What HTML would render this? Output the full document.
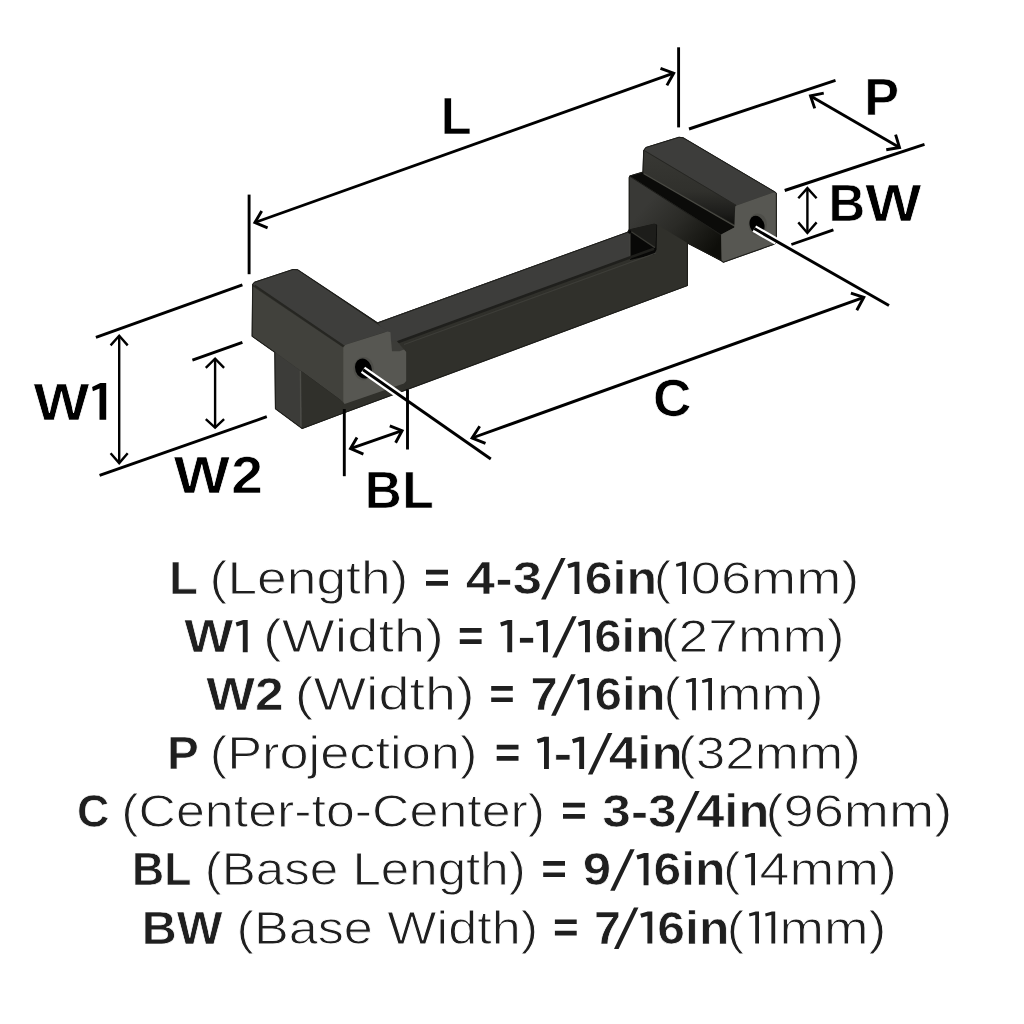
<!DOCTYPE html>
<html><head><meta charset="utf-8"><style>
html,body{margin:0;padding:0;background:#fff;}
body{width:1024px;height:1024px;overflow:hidden;}
svg{display:block;}
</style></head><body>
<svg width="1024" height="1024" viewBox="0 0 1024 1024">
<rect width="1024" height="1024" fill="#fff"/>
<defs><linearGradient id="gUp" x1="0" y1="0" x2="0" y2="1"><stop offset="0" stop-color="#383834"/><stop offset="0.55" stop-color="#30302c"/><stop offset="0.85" stop-color="#1c1c1a"/><stop offset="1" stop-color="#0e0e0c"/></linearGradient><linearGradient id="gLow" gradientUnits="userSpaceOnUse" x1="650" y1="200" x2="712" y2="252"><stop offset="0" stop-color="#393936"/><stop offset="0.45" stop-color="#2a2a26"/><stop offset="1" stop-color="#0e0e0a"/></linearGradient></defs>
<polygon points="252.7,284.4 254.5,282.3 293,269.5 297.5,269.8 377.6,323 627.8,232.2 629.3,229.3 629.3,177.6 629.8,176 643,172.2 643.75,150.5 646,147.5 679,137.3 683,137.8 774.7,191.9 776.3,193.5 776.3,242 774,244.2 723.3,262.2 721.5,260.5 687.4,243 687.4,285.5 402.5,391.1 342.6,413.3 302.2,428.4 275.5,408.7 274.9,352.2 252.2,336.2" fill="#30302b" stroke="#1c1c19" stroke-width="1.2" stroke-linejoin="round"/>
<polygon points="377.6,322.2 627.8,232.2 630,234.5 630,257.4 391.6,344.5 385,333" fill="#3d3d3b"/>
<polygon points="405,343.6 656,252.5 656.5,249.8 657.1,224.4 687.4,243 687.4,285.5 402.5,391.1 406.2,384 406.2,352" fill="#30302b"/>
<polygon points="627.8,232.2 629.3,229.3 654.2,223.4 657.1,224.4 656.5,249.8 654,254.5 630,260 630,234.5" fill="#080807"/>
<polygon points="629.3,229.3 654.2,223.4 656.6,224.6 655.5,247.5 631.3,231.6" fill="#1d1d1a"/>
<line x1="631.3" y1="231.8" x2="655" y2="247.6" stroke="#3a3a35" stroke-width="1.3"/>
<line x1="630" y1="233.5" x2="630" y2="259" stroke="#474742" stroke-width="1.0"/>
<line x1="396.9" y1="342.5" x2="654" y2="248.7" stroke="#1f1f1c" stroke-width="2.6"/>
<line x1="404" y1="344.6" x2="656" y2="253.1" stroke="#3d3d38" stroke-width="1.1"/>
<polygon points="629.3,177.6 629.8,176 721.1,234.5 722,261.7 687.4,243 657.1,224.4 654.2,223.4 629.3,229.3" fill="url(#gLow)"/>
<polygon points="643.75,150.5 736.5,205.5 735.2,225 643,173" fill="url(#gUp)"/>
<polygon points="629.8,176 643,172.6 735,226 734.3,227.5 721.1,234.5" fill="#0b0b09"/>
<line x1="643.5" y1="173.4" x2="735" y2="226.2" stroke="#4a4a44" stroke-width="1.3"/>
<line x1="630.5" y1="176.8" x2="721.1" y2="235" stroke="#1e1e1b" stroke-width="1.0"/>
<polygon points="643.75,149.8 646,147.5 679,137.3 683,137.8 774.7,191.9 736.5,205.5" fill="#3d3d3b"/>
<line x1="645" y1="151" x2="736" y2="205.2" stroke="#262623" stroke-width="1.0"/>
<polygon points="736.5,205.5 774.7,191.9 776.3,193.5 776.3,242 774,244.2 723.3,262.2 721.5,260.5 721.1,234.5 734.3,227.5 735.2,206.4" fill="#575752"/>
<ellipse cx="757.8" cy="224.6" rx="9.2" ry="11.2" fill="#4e4e49"/>
<ellipse cx="757" cy="225" rx="7.2" ry="9.6" fill="#000" transform="rotate(-20 757 225)"/>
<polygon points="252.7,284.4 254.5,282.3 293,269.5 297.5,269.8 387.6,331.2 345.5,344.7 343.7,345.4" fill="#3e3e3c"/>
<polygon points="252.2,286 343.2,347.5 343.2,402 340.6,400.3 301.6,371.6 274.9,352.2 252.2,336.2" fill="#41413c"/>
<line x1="254.6" y1="285.6" x2="343.5" y2="346.2" stroke="#262622" stroke-width="2"/>
<polygon points="274.9,352.2 301.6,371.6 302.2,428.4 275.5,408.7" fill="#3c3c39"/>
<line x1="300.3" y1="371" x2="300.8" y2="427.5" stroke="#4d4d48" stroke-width="1.2"/>
<line x1="301.6" y1="371.6" x2="340.6" y2="400.3" stroke="#2a2a26" stroke-width="1.0"/>
<polygon points="301.6,371.6 340.6,400.3 343,404 342.6,413.3 302.2,428.4" fill="#30302b"/>
<polygon points="342.6,404.4 404.5,383.5 406.2,384 402.5,391.1 342.6,413.3" fill="#30302b"/>
<polygon points="343.2,347.5 345.5,344.7 387.6,331.6 390.5,332.3 391,341.1 391.4,342 400.4,348 404.3,349.7 406.2,352 406.2,381 404,383.5 344.6,404 343.2,402" fill="#575752"/>
<polygon points="391.2,341.5 396,340 404,349.5 399.5,351.3 392,351.3" fill="#3c3c38"/>
<ellipse cx="363.6" cy="368.6" rx="10.2" ry="11.6" fill="#4e4e49"/>
<ellipse cx="363.4" cy="368.6" rx="8.2" ry="10.2" fill="#000" transform="rotate(-20 363.4 368.6)"/>
<polygon points="252.7,284.4 254.5,282.3 293,269.5 297.5,269.8 377.6,323 627.8,232.2 629.3,229.3 629.3,177.6 629.8,176 643,172.2 643.75,150.5 646,147.5 679,137.3 683,137.8 774.7,191.9 776.3,193.5 776.3,242 774,244.2 723.3,262.2 721.5,260.5 687.4,243 687.4,285.5 402.5,391.1 342.6,413.3 302.2,428.4 275.5,408.7 274.9,352.2 252.2,336.2" fill="none" stroke="#1c1c19" stroke-width="0.9" stroke-linejoin="round"/>
<line x1="363" y1="369.8" x2="402.5" y2="397.4" stroke="#fff" stroke-width="7.4"/>
<line x1="754.3" y1="228.6" x2="776.6" y2="241.4" stroke="#fff" stroke-width="7.4"/>
<line x1="363" y1="369.8" x2="490.8" y2="459" stroke="#000" stroke-width="2.9"/>
<line x1="754.3" y1="228.6" x2="889" y2="305.5" stroke="#000" stroke-width="2.9"/>
<line x1="249.1" y1="194.6" x2="249.1" y2="274.2" stroke="#000" stroke-width="2.9"/>
<line x1="678.6" y1="47.3" x2="678.6" y2="127.4" stroke="#000" stroke-width="2.9"/>
<line x1="254.9" y1="222.5" x2="673.7" y2="73.2" stroke="#000" stroke-width="2.9"/>
<polyline points="261.7,211.1 254.9,222.5 267.6,227.9" fill="none" stroke="#000" stroke-width="2.9" stroke-linejoin="miter"/>
<polyline points="660.5,68.3 673.7,73.2 666.9,85.4" fill="none" stroke="#000" stroke-width="2.9" stroke-linejoin="miter"/>
<line x1="689" y1="129" x2="835.5" y2="80.3" stroke="#000" stroke-width="2.9"/>
<line x1="784.7" y1="190.5" x2="924.5" y2="144.4" stroke="#000" stroke-width="2.9"/>
<line x1="810.5" y1="95.9" x2="899.5" y2="147.5" stroke="#000" stroke-width="2.9"/>
<polyline points="823.75,93.1 810.5,95.9 814.7,108.4" fill="none" stroke="#000" stroke-width="2.9" stroke-linejoin="miter"/>
<polyline points="895.6,134.7 899.5,147.5 886.25,149.8" fill="none" stroke="#000" stroke-width="2.9" stroke-linejoin="miter"/>
<line x1="807.4" y1="188.1" x2="807.4" y2="233" stroke="#000" stroke-width="2.4"/>
<polyline points="798.3,198.3 807.4,188.1 816.6,198.3" fill="none" stroke="#000" stroke-width="2.4" stroke-linejoin="miter"/>
<polyline points="798.3,222.4 807.4,233 816.6,222.4" fill="none" stroke="#000" stroke-width="2.4" stroke-linejoin="miter"/>
<line x1="791.4" y1="244.5" x2="833.4" y2="229.9" stroke="#000" stroke-width="2.9"/>
<line x1="95.9" y1="337.4" x2="242.4" y2="284.9" stroke="#000" stroke-width="2.9"/>
<line x1="99.6" y1="475.3" x2="266.8" y2="416.7" stroke="#000" stroke-width="2.9"/>
<line x1="119.2" y1="335.7" x2="119.2" y2="463.1" stroke="#000" stroke-width="2.4"/>
<polyline points="110.6,345.4 119.2,335.7 127.7,345.4" fill="none" stroke="#000" stroke-width="2.4" stroke-linejoin="miter"/>
<polyline points="110.6,453.3 119.2,463.1 127.7,453.3" fill="none" stroke="#000" stroke-width="2.4" stroke-linejoin="miter"/>
<line x1="192.4" y1="360.1" x2="242.4" y2="342.3" stroke="#000" stroke-width="2.9"/>
<line x1="215.1" y1="358.6" x2="215.1" y2="427.7" stroke="#000" stroke-width="2.4"/>
<polyline points="205.8,367.9 215.1,358.6 224.1,367.9" fill="none" stroke="#000" stroke-width="2.4" stroke-linejoin="miter"/>
<polyline points="205.8,419.2 215.1,427.7 224.1,419.2" fill="none" stroke="#000" stroke-width="2.4" stroke-linejoin="miter"/>
<line x1="344.3" y1="409" x2="344.3" y2="476.2" stroke="#000" stroke-width="2.9"/>
<line x1="407.5" y1="389.4" x2="407.5" y2="449.5" stroke="#000" stroke-width="2.9"/>
<line x1="350.5" y1="448.6" x2="402.1" y2="430.7" stroke="#000" stroke-width="2.9"/>
<polyline points="357,437.5 350.5,448.6 363.4,454.1" fill="none" stroke="#000" stroke-width="2.9" stroke-linejoin="miter"/>
<polyline points="389.8,425.8 402.1,430.7 395.6,442.8" fill="none" stroke="#000" stroke-width="2.9" stroke-linejoin="miter"/>
<line x1="472.1" y1="438" x2="863.8" y2="297.3" stroke="#000" stroke-width="2.9"/>
<polyline points="479.7,426.3 472.1,438 485.5,443.3" fill="none" stroke="#000" stroke-width="2.9" stroke-linejoin="miter"/>
<polyline points="850.9,293.2 863.8,297.3 856.8,310.2" fill="none" stroke="#000" stroke-width="2.9" stroke-linejoin="miter"/>
<g style="filter:grayscale(1)">
<text x="169.13" y="594" font-size="46.8" font-family="Liberation Sans" font-weight="bold" fill="#211f1f" stroke="#fff" stroke-width="0.7" textLength="29.09" lengthAdjust="spacingAndGlyphs" xml:space="preserve">L</text>
<text x="209.64" y="594" font-size="46.8" font-family="Liberation Sans" font-weight="normal" fill="#211f1f" stroke="#fff" stroke-width="0.95" textLength="198.74" lengthAdjust="spacingAndGlyphs" xml:space="preserve">(Length)</text>
<text x="465.88" y="594" font-size="46.8" font-family="Liberation Sans" font-weight="bold" fill="#211f1f" stroke="#fff" stroke-width="0.7" textLength="76.1" lengthAdjust="spacingAndGlyphs" xml:space="preserve">4-3</text>
<text x="584.76" y="594" font-size="46.8" font-family="Liberation Sans" font-weight="bold" fill="#211f1f" stroke="#fff" stroke-width="0.7" textLength="72.32" lengthAdjust="spacingAndGlyphs" xml:space="preserve">6in</text>
<text x="653.77" y="594" font-size="46.8" font-family="Liberation Sans" font-weight="normal" fill="#211f1f" stroke="#fff" stroke-width="0.95" textLength="17.47" lengthAdjust="spacingAndGlyphs" xml:space="preserve">(</text>
<text x="690.89" y="594" font-size="46.8" font-family="Liberation Sans" font-weight="normal" fill="#211f1f" stroke="#fff" stroke-width="0.95" textLength="168.49" lengthAdjust="spacingAndGlyphs" xml:space="preserve">06mm)</text>
<text x="184.19" y="652.2" font-size="46.8" font-family="Liberation Sans" font-weight="bold" fill="#211f1f" stroke="#fff" stroke-width="0.7" textLength="49.01" lengthAdjust="spacingAndGlyphs" xml:space="preserve">W</text>
<text x="263.11" y="652.2" font-size="46.8" font-family="Liberation Sans" font-weight="normal" fill="#211f1f" stroke="#fff" stroke-width="0.95" textLength="180.75" lengthAdjust="spacingAndGlyphs" xml:space="preserve">(Width)</text>
<text x="517.2" y="652.2" font-size="46.8" font-family="Liberation Sans" font-weight="bold" fill="#211f1f" stroke="#fff" stroke-width="0.7" textLength="18.71" lengthAdjust="spacingAndGlyphs" xml:space="preserve">-</text>
<text x="594.2" y="652.2" font-size="46.8" font-family="Liberation Sans" font-weight="bold" fill="#211f1f" stroke="#fff" stroke-width="0.7" textLength="71.12" lengthAdjust="spacingAndGlyphs" xml:space="preserve">6in</text>
<text x="660.84" y="652.2" font-size="46.8" font-family="Liberation Sans" font-weight="normal" fill="#211f1f" stroke="#fff" stroke-width="0.95" textLength="183.8" lengthAdjust="spacingAndGlyphs" xml:space="preserve">(27mm)</text>
<text x="206.2" y="710.3" font-size="46.8" font-family="Liberation Sans" font-weight="bold" fill="#211f1f" stroke="#fff" stroke-width="0.7" textLength="77.43" lengthAdjust="spacingAndGlyphs" xml:space="preserve">W2</text>
<text x="294.83" y="710.3" font-size="46.8" font-family="Liberation Sans" font-weight="normal" fill="#211f1f" stroke="#fff" stroke-width="0.95" textLength="179.8" lengthAdjust="spacingAndGlyphs" xml:space="preserve">(Width)</text>
<text x="530.6" y="710.3" font-size="46.8" font-family="Liberation Sans" font-weight="bold" fill="#211f1f" stroke="#fff" stroke-width="0.7" textLength="27.33" lengthAdjust="spacingAndGlyphs" xml:space="preserve">7</text>
<text x="594.81" y="710.3" font-size="46.8" font-family="Liberation Sans" font-weight="bold" fill="#211f1f" stroke="#fff" stroke-width="0.7" textLength="70.68" lengthAdjust="spacingAndGlyphs" xml:space="preserve">6in</text>
<text x="663.47" y="710.3" font-size="46.8" font-family="Liberation Sans" font-weight="normal" fill="#211f1f" stroke="#fff" stroke-width="0.95" textLength="17.47" lengthAdjust="spacingAndGlyphs" xml:space="preserve">(</text>
<text x="716.94" y="710.3" font-size="46.8" font-family="Liberation Sans" font-weight="normal" fill="#211f1f" stroke="#fff" stroke-width="0.95" textLength="106.73" lengthAdjust="spacingAndGlyphs" xml:space="preserve">mm)</text>
<text x="167.02" y="769" font-size="46.8" font-family="Liberation Sans" font-weight="bold" fill="#211f1f" stroke="#fff" stroke-width="0.7" textLength="31.84" lengthAdjust="spacingAndGlyphs" xml:space="preserve">P</text>
<text x="209.73" y="769" font-size="46.8" font-family="Liberation Sans" font-weight="normal" fill="#211f1f" stroke="#fff" stroke-width="0.95" textLength="267.63" lengthAdjust="spacingAndGlyphs" xml:space="preserve">(Projection)</text>
<text x="553.58" y="769" font-size="46.8" font-family="Liberation Sans" font-weight="bold" fill="#211f1f" stroke="#fff" stroke-width="0.7" textLength="18.85" lengthAdjust="spacingAndGlyphs" xml:space="preserve">-</text>
<text x="608.81" y="769" font-size="46.8" font-family="Liberation Sans" font-weight="bold" fill="#211f1f" stroke="#fff" stroke-width="0.7" textLength="73.96" lengthAdjust="spacingAndGlyphs" xml:space="preserve">4in</text>
<text x="678.06" y="769" font-size="46.8" font-family="Liberation Sans" font-weight="normal" fill="#211f1f" stroke="#fff" stroke-width="0.95" textLength="182.85" lengthAdjust="spacingAndGlyphs" xml:space="preserve">(32mm)</text>
<text x="76.89" y="827" font-size="46.8" font-family="Liberation Sans" font-weight="bold" fill="#211f1f" stroke="#fff" stroke-width="0.7" textLength="32.33" lengthAdjust="spacingAndGlyphs" xml:space="preserve">C</text>
<text x="121.26" y="827" font-size="46.8" font-family="Liberation Sans" font-weight="normal" fill="#211f1f" stroke="#fff" stroke-width="0.95" textLength="423.87" lengthAdjust="spacingAndGlyphs" xml:space="preserve">(Center-to-Center)</text>
<text x="602.3" y="827" font-size="46.8" font-family="Liberation Sans" font-weight="bold" fill="#211f1f" stroke="#fff" stroke-width="0.7" textLength="74.3" lengthAdjust="spacingAndGlyphs" xml:space="preserve">3-3</text>
<text x="696.22" y="827" font-size="46.8" font-family="Liberation Sans" font-weight="bold" fill="#211f1f" stroke="#fff" stroke-width="0.7" textLength="73.1" lengthAdjust="spacingAndGlyphs" xml:space="preserve">4in</text>
<text x="765.46" y="827" font-size="46.8" font-family="Liberation Sans" font-weight="normal" fill="#211f1f" stroke="#fff" stroke-width="0.95" textLength="186.83" lengthAdjust="spacingAndGlyphs" xml:space="preserve">(96mm)</text>
<text x="132.1" y="885.3" font-size="46.8" font-family="Liberation Sans" font-weight="bold" fill="#211f1f" stroke="#fff" stroke-width="0.7" textLength="59.33" lengthAdjust="spacingAndGlyphs" xml:space="preserve">BL</text>
<text x="204.73" y="885.3" font-size="46.8" font-family="Liberation Sans" font-weight="normal" fill="#211f1f" stroke="#fff" stroke-width="0.95" textLength="321.01" lengthAdjust="spacingAndGlyphs" xml:space="preserve">(Base Length)</text>
<text x="582.82" y="885.3" font-size="46.8" font-family="Liberation Sans" font-weight="bold" fill="#211f1f" stroke="#fff" stroke-width="0.7" textLength="28.4" lengthAdjust="spacingAndGlyphs" xml:space="preserve">9</text>
<text x="653.57" y="885.3" font-size="46.8" font-family="Liberation Sans" font-weight="bold" fill="#211f1f" stroke="#fff" stroke-width="0.7" textLength="71.99" lengthAdjust="spacingAndGlyphs" xml:space="preserve">6in</text>
<text x="723.07" y="885.3" font-size="46.8" font-family="Liberation Sans" font-weight="normal" fill="#211f1f" stroke="#fff" stroke-width="0.95" textLength="17.47" lengthAdjust="spacingAndGlyphs" xml:space="preserve">(</text>
<text x="759.61" y="885.3" font-size="46.8" font-family="Liberation Sans" font-weight="normal" fill="#211f1f" stroke="#fff" stroke-width="0.95" textLength="137.2" lengthAdjust="spacingAndGlyphs" xml:space="preserve">4mm)</text>
<text x="141.76" y="943.6" font-size="46.8" font-family="Liberation Sans" font-weight="bold" fill="#211f1f" stroke="#fff" stroke-width="0.7" textLength="80.75" lengthAdjust="spacingAndGlyphs" xml:space="preserve">BW</text>
<text x="236.64" y="943.6" font-size="46.8" font-family="Liberation Sans" font-weight="normal" fill="#211f1f" stroke="#fff" stroke-width="0.95" textLength="301.41" lengthAdjust="spacingAndGlyphs" xml:space="preserve">(Base Width)</text>
<text x="594.13" y="943.6" font-size="46.8" font-family="Liberation Sans" font-weight="bold" fill="#211f1f" stroke="#fff" stroke-width="0.7" textLength="26.98" lengthAdjust="spacingAndGlyphs" xml:space="preserve">7</text>
<text x="657.37" y="943.6" font-size="46.8" font-family="Liberation Sans" font-weight="bold" fill="#211f1f" stroke="#fff" stroke-width="0.7" textLength="71.99" lengthAdjust="spacingAndGlyphs" xml:space="preserve">6in</text>
<text x="726.87" y="943.6" font-size="46.8" font-family="Liberation Sans" font-weight="normal" fill="#211f1f" stroke="#fff" stroke-width="0.95" textLength="17.47" lengthAdjust="spacingAndGlyphs" xml:space="preserve">(</text>
<text x="779.53" y="943.6" font-size="46.8" font-family="Liberation Sans" font-weight="normal" fill="#211f1f" stroke="#fff" stroke-width="0.95" textLength="106.84" lengthAdjust="spacingAndGlyphs" xml:space="preserve">mm)</text>
<text x="440.72" y="133.6" font-size="52" font-family="Liberation Sans" font-weight="bold" fill="#000" stroke="#fff" stroke-width="0.7" textLength="30.79" lengthAdjust="spacingAndGlyphs" xml:space="preserve">L</text>
<text x="864.29" y="114.7" font-size="52" font-family="Liberation Sans" font-weight="bold" fill="#000" stroke="#fff" stroke-width="0.7" textLength="34.81" lengthAdjust="spacingAndGlyphs" xml:space="preserve">P</text>
<text x="828.39" y="220.8" font-size="52" font-family="Liberation Sans" font-weight="bold" fill="#000" stroke="#fff" stroke-width="0.7" textLength="36.71" lengthAdjust="spacingAndGlyphs" xml:space="preserve">B</text>
<text x="865.36" y="220.8" font-size="52" font-family="Liberation Sans" font-weight="bold" fill="#000" stroke="#fff" stroke-width="0.7" textLength="56.09" lengthAdjust="spacingAndGlyphs" xml:space="preserve">W</text>
<text x="33.56" y="419.8" font-size="52" font-family="Liberation Sans" font-weight="bold" fill="#000" stroke="#fff" stroke-width="0.7" textLength="55.88" lengthAdjust="spacingAndGlyphs" xml:space="preserve">W</text>
<path d="M92.1,386.9 L100.3,383 L106.2,383 L106.2,419.75 L99.5,419.75 L99.5,388.6 L92.9,391.3 Z" fill="#000"/>
<text x="173.76" y="493.3" font-size="52" font-family="Liberation Sans" font-weight="bold" fill="#000" stroke="#fff" stroke-width="0.7" textLength="56.09" lengthAdjust="spacingAndGlyphs" xml:space="preserve">W</text>
<text x="231.31" y="493.3" font-size="52" font-family="Liberation Sans" font-weight="bold" fill="#000" stroke="#fff" stroke-width="0.7" textLength="31.69" lengthAdjust="spacingAndGlyphs" xml:space="preserve">2</text>
<text x="653.02" y="416.1" font-size="52" font-family="Liberation Sans" font-weight="bold" fill="#000" stroke="#fff" stroke-width="0.7" textLength="38.5" lengthAdjust="spacingAndGlyphs" xml:space="preserve">C</text>
<text x="364.66" y="507.7" font-size="52" font-family="Liberation Sans" font-weight="bold" fill="#000" stroke="#fff" stroke-width="0.7" textLength="36.96" lengthAdjust="spacingAndGlyphs" xml:space="preserve">B</text>
<text x="402.13" y="507.7" font-size="52" font-family="Liberation Sans" font-weight="bold" fill="#000" stroke="#fff" stroke-width="0.7" textLength="31.52" lengthAdjust="spacingAndGlyphs" xml:space="preserve">L</text>
<path d="M567.30,564.20 L574.90,561.80 L579.40,561.80 L579.40,594.00 L574.50,594.00 L574.50,566.40 L568.50,568.20 Z" fill="#211f1f"/>
<path d="M675.90,564.00 L682.70,561.80 L686.00,561.80 L686.00,594.00 L682.20,594.00 L682.20,565.40 L676.50,566.80 Z" fill="#211f1f"/>
<path d="M235.60,622.40 L243.20,620.00 L247.70,620.00 L247.70,652.20 L242.80,652.20 L242.80,624.60 L236.80,626.40 Z" fill="#211f1f"/>
<path d="M500.10,622.40 L507.70,620.00 L512.20,620.00 L512.20,652.20 L507.30,652.20 L507.30,624.60 L501.30,626.40 Z" fill="#211f1f"/>
<path d="M535.80,622.40 L543.40,620.00 L547.90,620.00 L547.90,652.20 L543.00,652.20 L543.00,624.60 L537.00,626.40 Z" fill="#211f1f"/>
<path d="M577.80,622.40 L585.40,620.00 L589.90,620.00 L589.90,652.20 L585.00,652.20 L585.00,624.60 L579.00,626.40 Z" fill="#211f1f"/>
<path d="M577.00,680.50 L584.60,678.10 L589.10,678.10 L589.10,710.30 L584.20,710.30 L584.20,682.70 L578.20,684.50 Z" fill="#211f1f"/>
<path d="M685.80,680.30 L692.60,678.10 L695.90,678.10 L695.90,710.30 L692.10,710.30 L692.10,681.70 L686.40,683.10 Z" fill="#211f1f"/>
<path d="M701.90,680.30 L708.70,678.10 L712.00,678.10 L712.00,710.30 L708.20,710.30 L708.20,681.70 L702.50,683.10 Z" fill="#211f1f"/>
<path d="M536.80,739.20 L544.40,736.80 L548.90,736.80 L548.90,769.00 L544.00,769.00 L544.00,741.40 L538.00,743.20 Z" fill="#211f1f"/>
<path d="M572.00,739.20 L579.60,736.80 L584.10,736.80 L584.10,769.00 L579.20,769.00 L579.20,741.40 L573.20,743.20 Z" fill="#211f1f"/>
<path d="M636.40,855.50 L644.00,853.10 L648.50,853.10 L648.50,885.30 L643.60,885.30 L643.60,857.70 L637.60,859.50 Z" fill="#211f1f"/>
<path d="M744.90,855.30 L751.70,853.10 L755.00,853.10 L755.00,885.30 L751.20,885.30 L751.20,856.70 L745.50,858.10 Z" fill="#211f1f"/>
<path d="M640.20,913.80 L647.80,911.40 L652.30,911.40 L652.30,943.60 L647.40,943.60 L647.40,916.00 L641.40,917.80 Z" fill="#211f1f"/>
<path d="M748.90,913.60 L755.70,911.40 L759.00,911.40 L759.00,943.60 L755.20,943.60 L755.20,915.00 L749.50,916.40 Z" fill="#211f1f"/>
<path d="M765.10,913.60 L771.90,911.40 L775.20,911.40 L775.20,943.60 L771.40,943.60 L771.40,915.00 L765.70,916.40 Z" fill="#211f1f"/>
<path d="M426.0,569.80h22.00v4.7h-22.00z M426.0,581.10h22.00v4.7h-22.00z" fill="#211f1f"/>
<path d="M459.8,628.00h21.80v4.7h-21.80z M459.8,639.30h21.80v4.7h-21.80z" fill="#211f1f"/>
<path d="M491.2,686.10h21.60v4.7h-21.60z M491.2,697.40h21.60v4.7h-21.60z" fill="#211f1f"/>
<path d="M496.7,744.80h21.80v4.7h-21.80z M496.7,756.10h21.80v4.7h-21.80z" fill="#211f1f"/>
<path d="M563.0,802.80h21.90v4.7h-21.90z M563.0,814.10h21.90v4.7h-21.90z" fill="#211f1f"/>
<path d="M543.2,861.10h21.80v4.7h-21.80z M543.2,872.40h21.80v4.7h-21.80z" fill="#211f1f"/>
<path d="M554.9,919.40h21.80v4.7h-21.80z M554.9,930.70h21.80v4.7h-21.80z" fill="#211f1f"/>
<path d="M541.10,599.40 L545.70,599.40 L565.60,558.00 L561.10,558.00 Z" fill="#211f1f"/>
<path d="M552.20,657.60 L556.80,657.60 L576.70,616.20 L572.20,616.20 Z" fill="#211f1f"/>
<path d="M551.10,715.70 L555.70,715.70 L575.60,674.30 L571.10,674.30 Z" fill="#211f1f"/>
<path d="M587.90,774.40 L592.50,774.40 L612.40,733.00 L607.90,733.00 Z" fill="#211f1f"/>
<path d="M675.10,832.40 L679.70,832.40 L699.60,791.00 L695.10,791.00 Z" fill="#211f1f"/>
<path d="M610.20,890.70 L614.80,890.70 L634.70,849.30 L630.20,849.30 Z" fill="#211f1f"/>
<path d="M614.00,949.00 L618.60,949.00 L638.50,907.60 L634.00,907.60 Z" fill="#211f1f"/>
</g>
</svg>
</body></html>
